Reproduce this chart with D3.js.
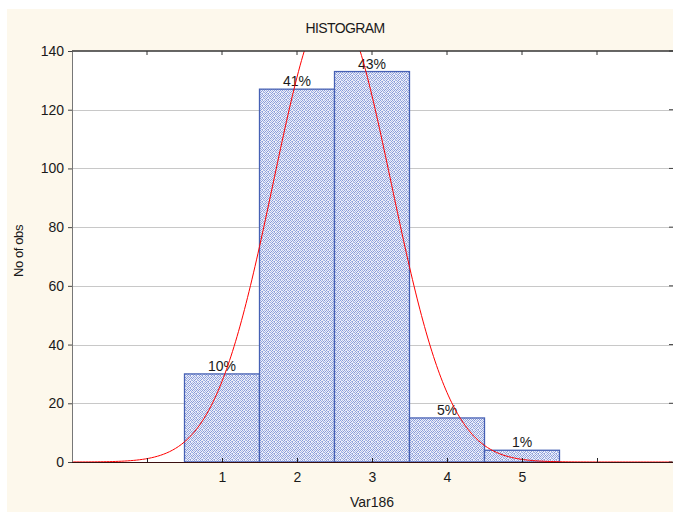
<!DOCTYPE html>
<meta charset="utf-8">
<style>
body { margin: 0; background: #fff; }
text { font-family: "Liberation Sans", Arial, sans-serif; fill: #1a1a1a; }
</style>
<body>
<svg width="673" height="512"></svg>
<script src="https://d3js.org/d3.v7.min.js"></script>
<script>
// histogram of Var186
const classes = [1, 2, 3, 4, 5];
const counts = [30, 127, 133, 15, 4];
const pctLabels = ["10%", "41%", "43%", "5%", "1%"];
const yTicks = [0, 20, 40, 60, 80, 100, 120, 140];
const xTicks = [0, 1, 2, 3, 4, 5, 6];
const xTickLabels = ["", "1", "2", "3", "4", "5", ""];

const svg = d3.select("svg");
const W = 673, H = 512;
const m = {left: 72, top: 51, right: 672, bottom: 462};

// cream page
svg.append("rect").attr("x", 7).attr("y", 9).attr("width", W - 7).attr("height", H - 9)
  .attr("fill", "#fdf8ec");

const x = d3.scaleLinear().domain([-1, 7]).range([m.left, m.right]);
const y = d3.scaleLinear().domain([0, 140]).range([m.bottom, m.top]);

svg.append("rect").attr("x", m.left).attr("y", m.top)
  .attr("width", W - m.left).attr("height", m.bottom - m.top).attr("fill", "#fff");

// dotted fill, irregular speckle
const defs = svg.append("defs");
const pat = defs.append("pattern").attr("id", "dots").attr("patternUnits", "userSpaceOnUse")
  .attr("width", 6).attr("height", 6);
pat.append("rect").attr("width", 6).attr("height", 6).attr("fill", "#eef0f9");
const speck = [[0,0,"#8598d8"],[2,0,"#a9b7e5"],[4,0,"#8fa1dc"],[1,1,"#b3bfe8"],[3,1,"#8598d8"],[5,1,"#a1b0e2"],
  [0,2,"#9badE0"],[2,2,"#8598d8"],[5,2,"#b8c3ea"],[1,3,"#8fa1dc"],[3,3,"#b0bce7"],[4,3,"#8a9cda"],
  [0,4,"#b3bfe8"],[2,4,"#8fa1dc"],[4,4,"#a1b0e2"],[1,5,"#8598d8"],[3,5,"#9aaae0"],[5,5,"#8598d8"]];
speck.forEach(s => pat.append("rect").attr("x", s[0]).attr("y", s[1]).attr("width", 1).attr("height", 1).attr("fill", s[2]));

defs.append("clipPath").attr("id", "plotclip").append("rect")
  .attr("x", m.left).attr("y", m.top).attr("width", W - m.left).attr("height", m.bottom - m.top);

// gridlines
svg.append("g").selectAll("line").data(yTicks.filter(d => d > 0 && d < 140)).join("line")
  .attr("x1", m.left).attr("x2", W).attr("y1", d => Math.round(y(d)) + 0.5).attr("y2", d => Math.round(y(d)) + 0.5)
  .attr("stroke", "#c8c8c8").attr("stroke-width", 1);

// bars
svg.append("g").selectAll("rect").data(classes).join("rect")
  .attr("x", (d, i) => x(d - 0.5)).attr("y", (d, i) => y(counts[i]))
  .attr("width", x(1.5) - x(0.5)).attr("height", (d, i) => y(0) - y(counts[i]))
  .attr("fill", "url(#dots)").attr("stroke", "#4660b4").attr("stroke-width", 1.3);

svg.append("g").selectAll("text").data(classes).join("text")
  .attr("x", d => x(d)).attr("y", (d, i) => y(counts[i]) - 3)
  .attr("text-anchor", "middle").attr("font-size", 14).text((d, i) => pctLabels[i]);

// fitted normal curve from the counts
const N = d3.sum(counts);
const mean = d3.sum(classes, (d, i) => d * counts[i]) / N;
const sd = Math.sqrt(d3.sum(classes, (d, i) => counts[i] * (d - mean) ** 2) / (N - 1));
const curve = d3.range(-1, 7.001, 0.02).map(v =>
  [v, N / (sd * Math.sqrt(2 * Math.PI)) * Math.exp(-0.5 * ((v - mean) / sd) ** 2)]);
svg.append("path").datum(curve).attr("clip-path", "url(#plotclip)")
  .attr("d", d3.line().x(d => x(d[0])).y(d => y(d[1])))
  .attr("fill", "none").attr("stroke", "#ff0000").attr("stroke-width", 1);

// axes
const yAxis = svg.append("g").attr("transform", `translate(${m.left},0)`)
  .call(d3.axisLeft(y).tickValues(yTicks).tickSize(4).tickSizeOuter(0));
yAxis.select(".domain").attr("stroke", "#777");
yAxis.selectAll(".tick line").attr("stroke", "#444");
yAxis.selectAll("text").attr("font-size", 14).attr("x", -8).attr("fill", "#1a1a1a");
yAxis.attr("font-family", null);

// right side ticks
svg.append("g").selectAll("line").data(yTicks).join("line")
  .attr("x1", W - 4).attr("x2", W).attr("y1", d => y(d)).attr("y2", d => y(d)).attr("stroke", "#444");

const xAxis = svg.append("g").attr("transform", `translate(0,${m.bottom})`)
  .call(d3.axisBottom(x).tickValues(xTicks).tickFormat((d, i) => xTickLabels[i]).tickSize(-4).tickSizeOuter(0));
xAxis.select(".domain").attr("stroke", "#3a1010").attr("d", `M${m.left},0.5H${W}`);
xAxis.selectAll(".tick line").attr("stroke", "#222");
xAxis.selectAll("text").attr("font-size", 14).attr("y", 10).attr("fill", "#1a1a1a");
xAxis.attr("font-family", null);

// top border with ticks
svg.append("line").attr("x1", m.left).attr("x2", W).attr("y1", m.top).attr("y2", m.top)
  .attr("stroke", "#333").attr("stroke-width", 1.5);
svg.append("g").selectAll("line").data(xTicks).join("line")
  .attr("x1", d => x(d)).attr("x2", d => x(d)).attr("y1", m.top).attr("y2", m.top + 4).attr("stroke", "#333");

// titles
svg.append("text").attr("x", 345).attr("y", 33).attr("text-anchor", "middle")
  .attr("font-size", 14).attr("letter-spacing", -0.6).text("HISTOGRAM");
svg.append("text").attr("x", (m.left + m.right) / 2).attr("y", 507).attr("text-anchor", "middle")
  .attr("font-size", 14).text("Var186");
svg.append("text").attr("transform", "translate(23,251) rotate(-90)").attr("text-anchor", "middle")
  .attr("font-size", 13).attr("letter-spacing", -0.4).text("No of obs");
</script>
</body>
